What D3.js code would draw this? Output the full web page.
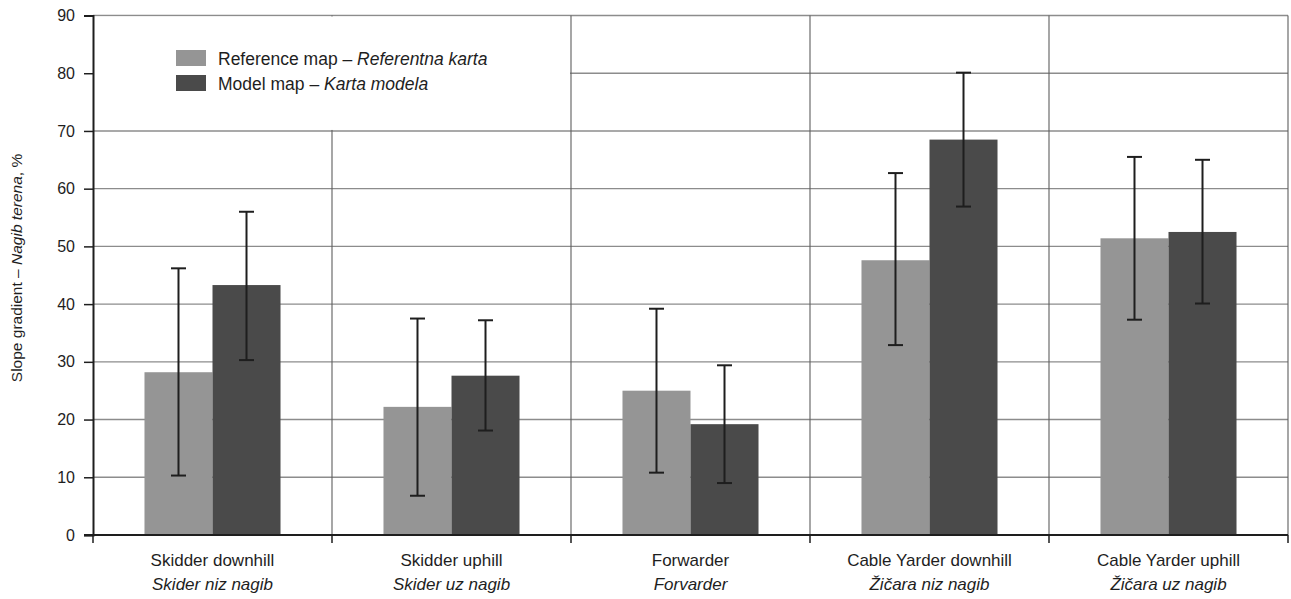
<!DOCTYPE html>
<html>
<head>
<meta charset="utf-8">
<script src="https://cdn.jsdelivr.net/npm/d3@7"></script>
<style>
  html, body { margin: 0; padding: 0; background: #ffffff; }
  svg { display: block; font-family: "Liberation Sans", Arial, sans-serif; }
</style>
</head>
<body>
<svg id="chart" width="1291" height="599"></svg>
<script>
// Machine categories (English / Croatian)
const categories = ["Skidder downhill", "Skidder uphill", "Forwarder", "Cable Yarder downhill", "Cable Yarder uphill"];
const categoriesHr = ["Skider niz nagib", "Skider uz nagib", "Forvarder", "Žičara niz nagib", "Žičara uz nagib"];

// Mean slope gradient, %
const referenceMean = [28.2, 22.2, 25.0, 47.6, 51.4];
const modelMean     = [43.3, 27.6, 19.2, 68.5, 52.5];

// Error bar ends (lower / upper), %
const referenceLow  = [10.3, 6.8, 10.8, 32.9, 37.3];
const referenceHigh = [46.2, 37.5, 39.2, 62.7, 65.5];
const modelLow      = [30.3, 18.1, 9.0, 56.9, 40.1];
const modelHigh     = [56.0, 37.2, 29.4, 80.1, 65.0];

const yTicks = [0, 10, 20, 30, 40, 50, 60, 70, 80, 90];

const seriesKeys = ["reference", "model"];
const seriesColor = { reference: "#959595", model: "#4a4a4a" };
const seriesLabel = {
  reference: ["Reference map – ", "Referentna karta"],
  model: ["Model map – ", "Karta modela"]
};

const rows = categories.map((c, i) => ({
  cat: c,
  catHr: categoriesHr[i],
  values: [
    { key: "reference", mean: referenceMean[i], lo: referenceLow[i], hi: referenceHigh[i] },
    { key: "model", mean: modelMean[i], lo: modelLow[i], hi: modelHigh[i] }
  ]
}));

const svg = d3.select("#chart");
const plotLeft = 93, plotRight = 1288, plotTop = 15.5, plotBottom = 535;

const x0 = d3.scaleBand().domain(categories).range([plotLeft, plotRight]).paddingInner(0).paddingOuter(0);
const x1 = d3.scaleBand().domain(seriesKeys).range([0, x0.bandwidth()]).paddingInner(0).paddingOuter(0.757);
const y = d3.scaleLinear().domain([0, 90]).range([plotBottom, plotTop]);

const ink = "#1e1e1e";

// Horizontal gridlines
svg.append("g")
  .selectAll("line")
  .data(yTicks.filter(t => t > 0))
  .join("line")
  .attr("x1", plotLeft).attr("x2", plotRight)
  .attr("y1", d => y(d)).attr("y2", d => y(d))
  .attr("stroke", "#8c8c8c").attr("stroke-width", 1.4);

// Vertical category separators and right border
svg.append("g")
  .selectAll("line")
  .data(categories.slice(1).map(c => x0(c)).concat([plotRight]))
  .join("line")
  .attr("x1", d => d).attr("x2", d => d)
  .attr("y1", plotTop).attr("y2", plotBottom)
  .attr("stroke", "#5e5e5e").attr("stroke-width", 1.1);

// Legend background panel (hides grid behind it)
svg.append("rect")
  .attr("x", plotLeft + 1).attr("y", y(90) + 1)
  .attr("width", x0(categories[2]) - plotLeft - 2)
  .attr("height", y(70) - y(90) - 2)
  .attr("fill", "#ffffff");

// Bars
const groups = svg.append("g")
  .selectAll("g")
  .data(rows)
  .join("g")
  .attr("transform", d => `translate(${x0(d.cat)},0)`);

groups.selectAll("rect")
  .data(d => d.values)
  .join("rect")
  .attr("x", d => x1(d.key))
  .attr("width", x1.bandwidth())
  .attr("y", d => y(d.mean))
  .attr("height", d => y(0) - y(d.mean))
  .attr("fill", d => seriesColor[d.key]);

// Error bars
const capHalf = 7.5;
const err = groups.selectAll("g.err")
  .data(d => d.values)
  .join("g")
  .attr("class", "err")
  .attr("transform", d => `translate(${x1(d.key) + x1.bandwidth() / 2},0)`);

err.append("line")
  .attr("x1", 0).attr("x2", 0)
  .attr("y1", d => y(d.lo)).attr("y2", d => y(d.hi))
  .attr("stroke", ink).attr("stroke-width", 2);
err.append("line")
  .attr("x1", -capHalf).attr("x2", capHalf)
  .attr("y1", d => y(d.hi)).attr("y2", d => y(d.hi))
  .attr("stroke", ink).attr("stroke-width", 2);
err.append("line")
  .attr("x1", -capHalf).attr("x2", capHalf)
  .attr("y1", d => y(d.lo)).attr("y2", d => y(d.lo))
  .attr("stroke", ink).attr("stroke-width", 2);

// Y axis
const yAxis = d3.axisLeft(y).tickValues(yTicks).tickSize(9).tickPadding(9);
const gy = svg.append("g").attr("transform", `translate(${plotLeft},0)`).call(yAxis);
gy.select(".domain").attr("stroke", ink).attr("stroke-width", 2);
gy.selectAll(".tick line").attr("stroke", ink).attr("stroke-width", 1.5);
gy.selectAll(".tick text").attr("fill", ink).style("font-size", "16px");

// X axis line with ticks at category boundaries
svg.append("line")
  .attr("x1", plotLeft - 9).attr("x2", plotRight)
  .attr("y1", plotBottom).attr("y2", plotBottom)
  .attr("stroke", ink).attr("stroke-width", 2);
svg.append("g")
  .selectAll("line")
  .data(categories.map(c => x0(c)).concat([plotRight]))
  .join("line")
  .attr("x1", d => d).attr("x2", d => d)
  .attr("y1", plotBottom).attr("y2", plotBottom + 8)
  .attr("stroke", ink).attr("stroke-width", 1.5);

// Category labels
const labels = svg.append("g")
  .selectAll("text")
  .data(rows)
  .join("text")
  .attr("text-anchor", "middle")
  .attr("fill", ink)
  .style("font-size", "17px");
labels.append("tspan")
  .attr("x", d => x0(d.cat) + x0.bandwidth() / 2)
  .attr("y", 566)
  .text(d => d.cat);
labels.append("tspan")
  .attr("x", d => x0(d.cat) + x0.bandwidth() / 2)
  .attr("y", 590)
  .style("font-style", "italic")
  .text(d => d.catHr);

// Y axis title
const yTitle = svg.append("text")
  .attr("transform", "translate(22,268) rotate(-90)")
  .attr("text-anchor", "middle")
  .attr("fill", ink)
  .style("font-size", "15.5px");
yTitle.append("tspan").text("Slope gradient – ");
yTitle.append("tspan").style("font-style", "italic").text("Nagib terena");
yTitle.append("tspan").text(", %");

// Legend
const legend = svg.append("g")
  .selectAll("g")
  .data(seriesKeys)
  .join("g")
  .attr("transform", (d, i) => `translate(176,${50 + i * 25})`);
legend.append("rect")
  .attr("width", 30).attr("height", 16)
  .attr("fill", d => seriesColor[d]);
const lt = legend.append("text")
  .attr("x", 42).attr("y", 15)
  .attr("fill", ink)
  .style("font-size", "17.5px");
lt.append("tspan").text(d => seriesLabel[d][0]);
lt.append("tspan").style("font-style", "italic").text(d => seriesLabel[d][1]);
</script>
</body>
</html>
